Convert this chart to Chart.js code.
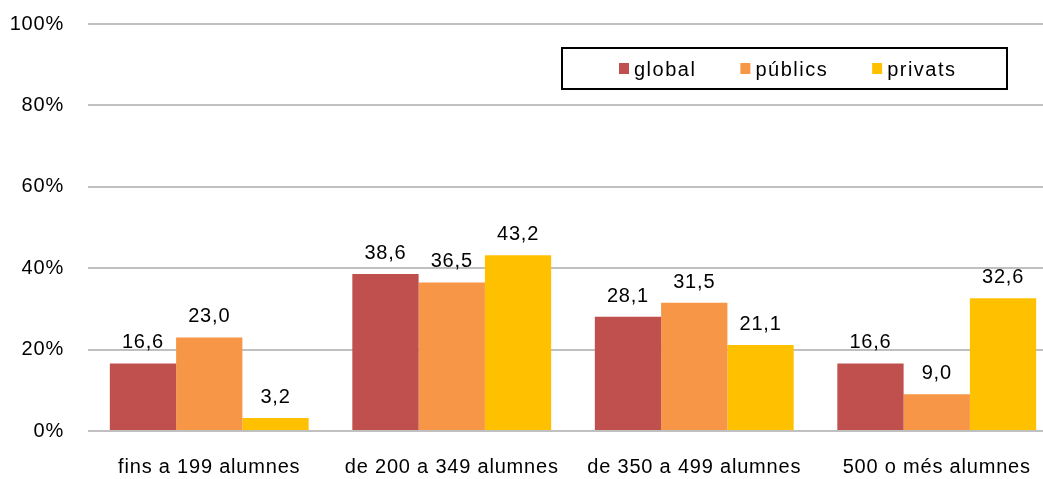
<!DOCTYPE html>
<html>
<head>
<meta charset="utf-8">
<script src="https://cdn.jsdelivr.net/npm/chart.js@4"></script>
<style>
  html, body { margin: 0; padding: 0; background: #fff; overflow: hidden; }
  #wrap { width: 1060px; height: 479px; }
</style>
</head>
<body>
<div id="wrap"><canvas id="mainChart"></canvas></div>
<script>
const categories = ['fins a 199 alumnes', 'de 200 a 349 alumnes', 'de 350 a 499 alumnes', '500 o més alumnes'];
const globalValues = [16.6, 38.6, 28.1, 16.6];
const publicValues = [23.0, 36.5, 31.5, 9.0];
const privateValues = [3.2, 43.2, 21.1, 32.6];
const yTicks = [0, 20, 40, 60, 80, 100];

const FONT = '"Liberation Sans", Arial, sans-serif';

// slightly wider text spacing for the axis labels
const axisSpacing = {
  id: 'axisSpacing',
  beforeDraw(chart) { chart.ctx.letterSpacing = '0.8px'; },
  beforeDatasetsDraw(chart) { chart.ctx.letterSpacing = '0px'; }
};

// Value labels above each bar (comma decimal)
const barLabels = {
  id: 'barLabels',
  afterDatasetsDraw(chart) {
    const ctx = chart.ctx;
    ctx.save();
    ctx.font = '20px ' + FONT;
    ctx.letterSpacing = '0.8px';
    ctx.fillStyle = '#000';
    ctx.textAlign = 'center';
    ctx.textBaseline = 'alphabetic';
    chart.data.datasets.forEach((ds, i) => {
      chart.getDatasetMeta(i).data.forEach((bar, j) => {
        const txt = ds.data[j].toFixed(1).replace('.', ',');
        ctx.fillText(txt, bar.x, bar.y - 15);
      });
    });
    ctx.restore();
  }
};

// Boxed legend in the top right
const boxLegend = {
  id: 'boxLegend',
  afterDraw(chart) {
    const ctx = chart.ctx;
    ctx.save();
    ctx.lineWidth = 2;
    ctx.strokeStyle = '#000';
    ctx.strokeRect(562, 48, 445, 41);
    ctx.font = '20px ' + FONT;
    ctx.letterSpacing = '1.5px';
    ctx.textBaseline = 'alphabetic';
    let x = 619;
    chart.data.datasets.forEach(ds => {
      ctx.fillStyle = ds.backgroundColor;
      ctx.fillRect(x, 63, 10, 11);
      ctx.fillStyle = '#000';
      ctx.fillText(ds.label, x + 15, 76);
      x += 15 + ctx.measureText(ds.label).width + 44;
    });
    ctx.restore();
  }
};

new Chart(document.getElementById('mainChart'), {
  type: 'bar',
  data: {
    labels: categories,
    datasets: [
      { label: 'global', data: globalValues, backgroundColor: '#C0504D' },
      { label: 'públics', data: publicValues, backgroundColor: '#F79646' },
      { label: 'privats', data: privateValues, backgroundColor: '#FFC000' }
    ]
  },
  options: {
    responsive: true,
    maintainAspectRatio: false,
    animation: false,
    layout: { padding: { top: 24, right: 2, bottom: 0, left: 0 } },
    categoryPercentage: 0.82,
    barPercentage: 1.0,
    plugins: {
      legend: { display: false },
      tooltip: { enabled: false }
    },
    scales: {
      y: {
        min: 0,
        max: 100,
        afterFit: s => { s.width = 88; s.paddingTop = 0; s.paddingBottom = 0; },
        afterBuildTicks: s => { s.ticks = yTicks.map(v => ({ value: v })); },
        border: { display: false },
        grid: { color: '#c0c0c0', lineWidth: 2, drawTicks: false },
        ticks: {
          padding: 24,
          color: '#000',
          font: { family: FONT, size: 20 },
          callback: v => v + '%'
        }
      },
      x: {
        afterFit: s => { s.height = 48; },
        border: { display: false },
        grid: { display: false, drawTicks: false },
        ticks: {
          padding: 24,
          color: '#000',
          maxRotation: 0,
          font: { family: FONT, size: 20 }
        }
      }
    }
  },
  plugins: [axisSpacing, barLabels, boxLegend]
});
</script>
</body>
</html>
